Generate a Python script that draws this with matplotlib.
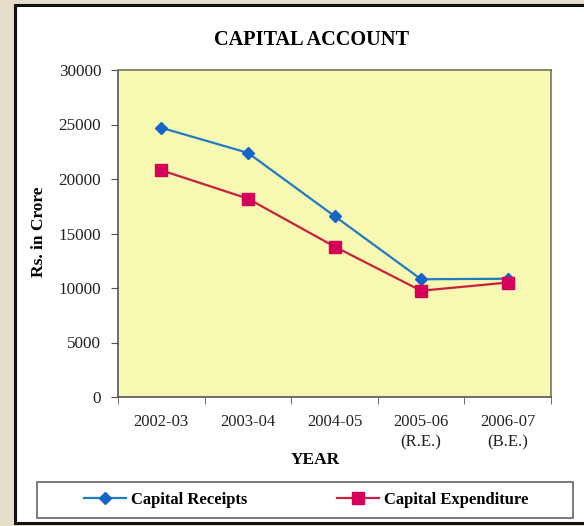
import matplotlib
matplotlib.use("Agg")
import matplotlib.pyplot as plt
from matplotlib.patches import Rectangle

years = ["2002-03", "2003-04", "2004-05", "2005-06\n(R.E.)", "2006-07\n(B.E.)"]
receipts = [24700, 22400, 16600, 10800, 10850]
expenditure = [20800, 18200, 13800, 9750, 10500]
yticks = [0, 5000, 10000, 15000, 20000, 25000, 30000]

W, H = 584, 526
fig = plt.figure(figsize=(W / 100, H / 100), dpi=100)
fig.patch.set_facecolor("#E6DDCB")
plt.rcParams["font.family"] = ["Liberation Serif", "DejaVu Serif"]

# white panel
fig.add_artist(Rectangle((15 / W, 1 - 523 / H), (W + 10 - 15) / W, (523 - 5) / H,
                         transform=fig.transFigure, facecolor="white",
                         edgecolor="#111111", linewidth=2.2, zorder=0))
# legend frame
fig.add_artist(Rectangle((37 / W, 1 - 518 / H), (573 - 37) / W, (518 - 482) / H,
                         transform=fig.transFigure, facecolor="white",
                         edgecolor="#666666", linewidth=1.2, zorder=1))

ax = fig.add_axes([118 / W, 1 - 397 / H, (551 - 118) / W, (397 - 70) / H])
ax.set_facecolor("#F7F8B2")
x = list(range(len(years)))
ax.plot(x, receipts, color="#1E7BC4", linewidth=1.6, marker="D", markersize=6,
        markerfacecolor="#1565C8", markeredgecolor="#1565C8", label="Capital Receipts", zorder=3)
ax.plot(x, expenditure, color="#C8203F", linewidth=1.6, marker="s", markersize=8.5,
        markerfacecolor="#D4005A", markeredgecolor="#D4005A", label="Capital Expenditure", zorder=3)

ax.set_xlim(-0.5, len(years) - 0.5)
ax.set_ylim(0, 30000)
ax.set_yticks(yticks)
ax.set_yticklabels([str(v) for v in yticks], fontsize=12.3, color="#222222")
ax.set_xticks(x)
ax.set_xticklabels(years, fontsize=12, linespacing=1.4, color="#222222")
ax.set_xticks([i - 0.5 for i in range(len(years) + 1)], minor=True)
ax.tick_params(axis="x", which="major", length=0, pad=12)
ax.tick_params(axis="x", which="minor", length=5, direction="out", color="#555555")
ax.tick_params(axis="y", length=5, direction="out", color="#555555", pad=7)
for s in ax.spines.values():
    s.set_color("#77775A")
    s.set_linewidth(1.2)
ax.spines["left"].set_color("#555555")
ax.spines["bottom"].set_color("#555555")

fig.text(311 / W, 1 - 40 / H, "CAPITAL ACCOUNT", ha="center", va="center",
         fontsize=14.6, fontweight="bold")
fig.text(315 / W, 1 - 460 / H, "YEAR", ha="center", va="center",
         fontsize=12.5, fontweight="bold")
fig.text(39 / W, 1 - 232 / H, "Rs. in Crore", ha="center", va="center",
         rotation=90, fontsize=12.5, fontweight="bold")

handles, labels = ax.get_legend_handles_labels()
leg = fig.legend(handles, labels, loc="center",
                 bbox_to_anchor=(306 / W, 1 - 500 / H),
                 ncol=2, frameon=False,
                 prop={"weight": "bold", "size": 12}, handlelength=2.5,
                 handletextpad=0.3, columnspacing=5.4)
leg.set_zorder(2)

fig.savefig("out.png", dpi=100, facecolor=fig.get_facecolor())
